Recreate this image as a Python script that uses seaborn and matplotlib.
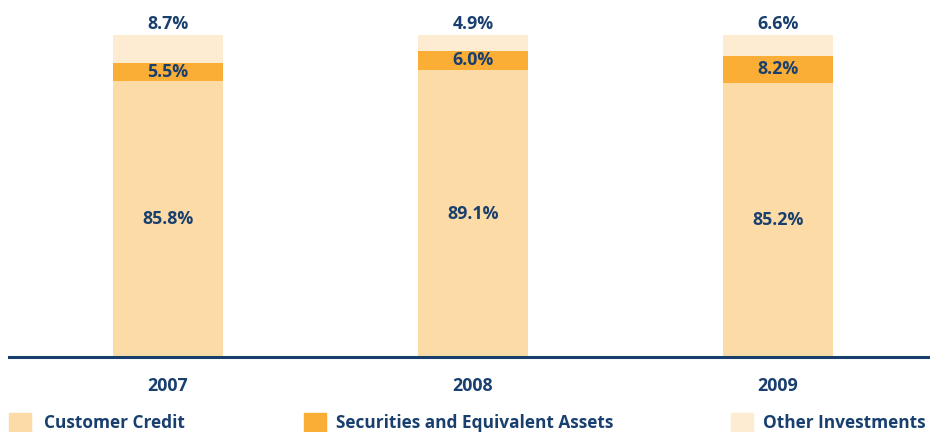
import matplotlib
matplotlib.use("Agg")
import matplotlib.pyplot as plt
import seaborn as sns
import numpy as np
from matplotlib.patches import Rectangle

years = ["2007", "2008", "2009"]
customer_credit = [85.8, 89.1, 85.2]
securities = [5.5, 6.0, 8.2]
other_investments = [8.7, 4.9, 6.6]
series_names = ["Customer Credit", "Securities and Equivalent Assets", "Other Investments"]

c_credit = "#FDDBA6"
c_sec = "#FAAE36"
c_other = "#FDEBD2"
navy = "#183F6E"

sns.set_theme(style="white")
plt.rcParams["font.family"] = ["Open Sans", "DejaVu Sans"]

fig = plt.figure(figsize=(9.30, 4.32), dpi=100)
ax = fig.add_axes([9 / 930, 1 - 357 / 432, 921 / 930, 357 / 432])

credit = np.array(customer_credit)
sec = np.array(securities)
other = np.array(other_investments)
top_total = credit + sec + other
mid_total = credit + sec

bw = 110 / 305
sns.barplot(x=years, y=top_total, color=c_other, width=bw, saturation=1, ax=ax, linewidth=0)
sns.barplot(x=years, y=mid_total, color=c_sec, width=bw, saturation=1, ax=ax, linewidth=0)
sns.barplot(x=years, y=credit, color=c_credit, width=bw, saturation=1, ax=ax, linewidth=0)

ax.set_xlim(-0.521, 2.498)
ax.set_ylim(0, 357 / 322 * 100)
ax.set_yticks([])
ax.set_xticks([])
ax.set_xlabel("")
ax.set_ylabel("")
for s in ["top", "left", "right"]:
    ax.spines[s].set_visible(False)
ax.spines["bottom"].set_color(navy)
ax.spines["bottom"].set_linewidth(2.2)
ax.patch.set_alpha(0)

fs = 12.8
for i in range(len(years)):
    ax.text(i, credit[i] / 2, f"{credit[i]:.1f}%", ha="center", va="center",
            fontsize=fs, fontweight="bold", color=navy)
    ax.text(i, credit[i] + sec[i] / 2, f"{sec[i]:.1f}%", ha="center", va="center",
            fontsize=fs, fontweight="bold", color=navy)
    ax.text(i, top_total[i] + 1.9, f"{other[i]:.1f}%", ha="center", va="baseline",
            fontsize=fs, fontweight="bold", color=navy)
    ax.annotate(years[i], xy=(i, 0), xycoords="data", xytext=(0, -24.5),
                textcoords="offset points", ha="center", va="baseline",
                fontsize=fs, fontweight="bold", color=navy)

# legend row along the bottom edge
legend_fs = 12.4
patch_x = [9, 304, 731]
label_x = [44, 336, 926]
label_ha = ["left", "left", "right"]
for px, tx, ha, col, name in zip(patch_x, label_x, label_ha,
                                 [c_credit, c_sec, c_other], series_names):
    fig.patches.append(Rectangle((px / 930, 0), 22 / 930, 19 / 432,
                                 transform=fig.transFigure, color=col, zorder=1))
    fig.text(tx / 930, 1 - 428 / 432, name, ha=ha, va="baseline",
             fontsize=legend_fs, fontweight="bold", color=navy)

fig.savefig("out.png", dpi=100)
